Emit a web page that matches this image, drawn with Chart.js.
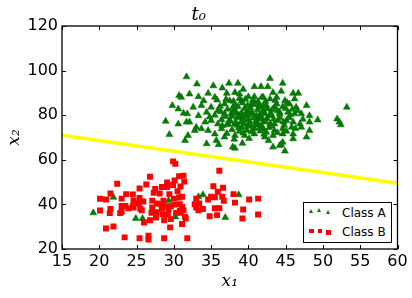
<!DOCTYPE html>
<html>
<head>
<meta charset="utf-8">
<script src="https://cdn.jsdelivr.net/npm/chart.js@4/dist/chart.umd.min.js"></script>
<style>
  html, body { margin: 0; padding: 0; background: #fff; }
  #wrap { position: relative; width: 412px; height: 298px; }
  #chart { display: block; }
  #legend { position: absolute; left: 303px; top: 202px; width: 89px; height: 41px;
    border: 1px solid #000; background: #fff; box-sizing: border-box;
    font: 12px "DejaVu Sans", sans-serif; color: #000; }
  #legend .lbl { position: absolute; left: 38px; line-height: 14px; }
  #legend .tri { position: absolute; width: 0; height: 0; border-style: solid; border-color: transparent transparent #008000 transparent; }
  #legend .sq { position: absolute; background: #ff0000; }
</style>
</head>
<body>
<div id="wrap">
  <canvas id="chart" width="412" height="298"></canvas>
  <div id="legend">
    <span class="tri" style="left:5px; top:6px; border-width:0 2px 4px 2px;"></span>
    <span class="tri" style="left:13px; top:5px; border-width:0 2px 4px 2px;"></span>
    <span class="tri" style="left:22px; top:7px; border-width:0 2px 4px 2px;"></span>
    <span class="lbl" style="top:3px;">Class A</span>
    <span class="sq" style="left:5px; top:26px; width:5px; height:4px;"></span>
    <span class="sq" style="left:14px; top:26px; width:4px; height:4px;"></span>
    <span class="sq" style="left:22px; top:27px; width:5px; height:5px;"></span>
    <span class="lbl" style="top:22px;">Class B</span>
  </div>
</div>
<script>
// Class A (green triangles)
const classAX = [
  33.1, 35.3, 36.5, 37.4, 38.6, 40.8, 41.7, 30.7, 31.0, 32.1,
  33.3, 34.6, 35.5, 37.1, 38.2, 38.8, 40.0, 40.8, 30.6, 31.3,
  31.8, 32.6, 33.7, 33.3, 34.4, 35.0, 35.9, 36.8, 37.5, 39.1,
  40.4, 41.5, 30.6, 31.7, 32.1, 33.0, 34.2, 35.0, 35.9, 36.8,
  37.7, 38.4, 39.1, 40.0, 41.1, 42.0, 31.9, 32.8, 33.7, 34.6,
  35.5, 36.4, 37.3, 38.2, 39.1, 40.2, 41.3, 31.5, 34.4, 35.7,
  36.8, 38.2, 39.5, 40.8, 42.0, 37.9, 42.6, 44.6, 43.3, 44.4,
  46.0, 46.7, 42.0, 42.9, 43.8, 44.9, 46.2, 47.8, 53.2, 42.4,
  43.5, 45.5, 46.4, 42.2, 43.1, 44.2, 45.3, 46.2, 47.1, 48.2,
  49.3, 51.9, 52.2, 52.4, 42.0, 42.9, 44.0, 45.1, 46.0, 46.9,
  48.2, 42.4, 43.5, 44.6, 45.8, 47.1, 48.2, 42.2, 43.3, 44.6,
  46.0, 47.8, 44.6, 44.2, 43.3, 46.0, 37.5, 38.0, 38.5, 39.0,
  39.5, 40.0, 40.5, 41.0, 41.5, 42.0, 38.2, 39.2, 40.3, 41.2,
  42.5, 43.0, 37.8, 38.8, 39.8, 40.8, 41.8, 42.8, 39.5, 40.2,
  41.5, 38.5, 37.2, 36.4, 36.2, 35.5, 39.8, 38.9, 40.9, 41.9,
  43.5, 44.2, 44.8, 45.5, 43.8, 42.3, 40.6, 38.8, 37.0, 39.3,
  36.5, 37.1, 38.1, 40.1, 41.6, 42.7, 39.2, 36.0, 31.7, 42.9,
  29.8, 28.9, 29.4, 44.9, 38.2, 44.4, 21.9, 19.2, 24.9, 25.8,
  29.3, 30.2, 33.3, 33.9, 38.7, 36.9, 39.7, 40.7, 37.9, 41.3,
  43.2, 44.6, 45.9, 40.9, 39.3, 37.5, 36.3, 34.8, 34.0, 35.8,
  37.8, 38.6, 39.4, 40.2, 41.0, 41.8, 42.6, 43.4, 44.2, 45.0,
  38.3, 39.1, 39.9, 40.7, 41.5, 42.3, 43.1, 43.9, 44.7, 45.6,
  37.1, 36.9, 38.0, 39.6, 41.8, 43.6, 45.2, 46.6, 47.3, 46.3,
  40.4, 38.7, 42.1, 43.9, 45.1, 39.9, 41.6, 40.0, 42.9, 38.1
];
const classAY = [
  94.0, 93.2, 92.2, 94.3, 94.3, 92.8, 92.8, 88.8, 88.0, 89.5,
  88.3, 89.8, 88.0, 89.8, 90.2, 89.5, 88.3, 88.3, 82.8, 80.9,
  80.6, 83.6, 84.3, 79.8, 81.3, 83.6, 82.1, 85.0, 86.5, 86.5,
  85.0, 84.3, 76.1, 76.9, 76.9, 74.6, 76.9, 77.6, 76.1, 80.6,
  80.6, 81.3, 79.1, 80.6, 79.8, 82.1, 70.9, 73.1, 73.9, 73.1,
  71.6, 73.9, 76.1, 76.1, 74.6, 75.4, 76.1, 68.7, 67.2, 68.7,
  70.2, 70.9, 70.9, 71.6, 73.9, 65.7, 92.8, 94.3, 90.2, 90.7,
  89.8, 89.8, 88.0, 87.3, 88.0, 86.5, 87.3, 84.3, 83.6, 84.3,
  83.6, 85.0, 83.6, 80.6, 79.8, 81.3, 81.3, 80.6, 80.6, 79.8,
  77.9, 78.3, 76.9, 75.7, 76.9, 76.1, 77.6, 77.6, 76.9, 76.1,
  76.9, 72.4, 73.1, 73.9, 74.6, 74.6, 73.1, 70.2, 70.9, 71.6,
  71.6, 70.2, 67.9, 66.4, 65.7, 69.4, 78.0, 82.0, 79.0, 77.0,
  83.0, 78.0, 81.0, 77.5, 80.0, 84.0, 84.5, 85.5, 83.2, 82.4,
  78.5, 81.0, 73.5, 72.8, 73.2, 74.0, 75.0, 74.5, 76.0, 76.8,
  78.3, 75.5, 82.7, 78.0, 84.0, 80.0, 81.7, 80.2, 79.4, 81.5,
  76.0, 79.0, 75.5, 78.9, 85.0, 86.2, 86.8, 87.5, 87.2, 91.6,
  75.3, 71.8, 69.2, 69.5, 72.9, 68.6, 67.4, 66.8, 97.2, 96.5,
  84.3, 77.3, 71.3, 63.9, 65.2, 66.9, 43.2, 36.2, 33.7, 33.7,
  41.7, 34.4, 43.4, 44.3, 44.3, 34.1, 79.8, 84.7, 83.4, 86.0,
  82.6, 83.8, 82.7, 75.6, 72.0, 77.3, 81.6, 79.2, 86.5, 86.8,
  79.5, 83.8, 78.2, 82.5, 85.2, 79.0, 82.8, 78.2, 80.4, 83.0,
  77.0, 81.0, 75.0, 78.8, 74.3, 77.2, 75.2, 82.0, 77.0, 80.2,
  75.7, 79.4, 86.2, 87.2, 88.1, 86.6, 85.6, 82.0, 78.2, 74.0,
  72.6, 74.3, 71.5, 72.1, 72.8, 84.4, 83.6, 80.0, 80.2, 80.9
];

// Class B (red squares)
const classBX = [
  29.9, 30.2, 36.1, 26.8, 30.7, 31.3, 22.4, 29.1, 30.1, 31.4,
  26.3, 27.5, 28.4, 29.1, 29.9, 30.9, 35.3, 36.6, 25.4, 21.5,
  23.6, 24.5, 27.3, 28.1, 29.4, 30.5, 35.9, 20.1, 20.9, 23.0,
  25.4, 24.6, 27.1, 28.6, 30.0, 30.7, 31.1, 33.0, 34.6, 35.0,
  35.5, 36.5, 38.0, 36.7, 40.1, 41.3, 38.2, 23.0, 23.5, 24.5,
  25.3, 25.9, 27.7, 28.3, 28.9, 29.6, 30.1, 30.8, 31.1, 32.8,
  33.4, 33.0, 33.3, 33.9, 23.9, 24.6, 25.5, 25.7, 27.1, 28.4,
  29.3, 30.8, 31.3, 35.5, 36.1, 39.3, 20.1, 21.5, 21.4, 22.8,
  23.0, 27.0, 27.7, 28.5, 29.2, 30.3, 30.9, 34.8, 35.8, 41.3,
  26.8, 27.6, 28.7, 29.6, 31.5, 31.6, 39.2, 26.0, 31.1, 20.9,
  21.9, 29.5, 23.4, 25.4, 26.6, 26.6, 28.7, 31.8
];
const classBY = [
  59.3, 58.2, 55.1, 52.4, 52.6, 52.9, 49.3, 49.8, 50.7, 50.2,
  48.9, 46.9, 47.8, 47.8, 48.7, 48.0, 48.1, 47.5, 47.1, 44.9,
  44.6, 44.4, 45.2, 44.9, 44.6, 45.9, 45.7, 42.5, 42.2, 42.6,
  42.9, 41.7, 41.7, 41.7, 42.6, 43.1, 43.4, 42.6, 42.2, 43.4,
  43.2, 43.4, 44.6, 41.6, 42.2, 42.6, 40.8, 39.3, 39.3, 39.3,
  40.4, 41.3, 40.4, 40.1, 39.2, 39.2, 39.9, 40.1, 38.9, 40.1,
  40.4, 38.6, 37.4, 37.9, 38.3, 38.6, 38.0, 37.4, 38.6, 38.2,
  37.7, 37.1, 37.4, 38.3, 38.3, 37.7, 37.3, 38.0, 36.1, 36.1,
  36.7, 36.2, 36.5, 35.6, 35.5, 36.2, 36.2, 34.7, 35.2, 35.5,
  32.9, 34.1, 32.9, 33.4, 34.4, 33.7, 33.7, 31.9, 31.2, 29.2,
  30.1, 29.7, 25.2, 24.8, 26.0, 24.3, 24.8, 24.8
];

// Separating line t0
const lineX = [15, 60];
const lineY = [71.0, 49.5];

const xTicks = [15, 20, 25, 30, 35, 40, 45, 50, 55, 60];
const yTicks = [20, 40, 60, 80, 100, 120];

const pts = (xs, ys) => xs.map((x, i) => ({ x, y: ys[i] }));

// frame + inward ticks on all four sides
const frameTicks = {
  id: 'frameTicks',
  afterDatasetsDraw(chart) {
    const { ctx, chartArea: { left, right, top, bottom }, scales: { x, y } } = chart;
    ctx.save();
    ctx.strokeStyle = '#000';
    ctx.lineWidth = 1;
    ctx.beginPath();
    xTicks.forEach((v) => {
      const px = Math.round(x.getPixelForValue(v)) + 0.5;
      ctx.moveTo(px, bottom); ctx.lineTo(px, bottom - 4);
      ctx.moveTo(px, top); ctx.lineTo(px, top + 4);
    });
    yTicks.forEach((v) => {
      const py = Math.round(y.getPixelForValue(v)) + 0.5;
      ctx.moveTo(left, py); ctx.lineTo(left + 4, py);
      ctx.moveTo(right, py); ctx.lineTo(right - 4, py);
    });
    ctx.stroke();
    ctx.lineWidth = 1.3;
    ctx.strokeRect(left, top, right - left, bottom - top);
    ctx.restore();
  },
};

const tickFont = { family: 'DejaVu Sans', size: 16 };
const mathFont = { family: 'DejaVu Serif', style: 'italic', size: 17 };

new Chart(document.getElementById('chart'), {
  type: 'scatter',
  data: {
    datasets: [
      { label: 't0', type: 'line', data: pts(lineX, lineY), borderColor: '#ffff00', borderWidth: 3.5,
        pointRadius: 0, fill: false, order: 0 },
      { label: 'Class B', data: pts(classBX, classBY), pointStyle: 'rect', pointRadius: 4.2,
        backgroundColor: '#ff0000', borderColor: '#ff0000', borderWidth: 0, order: 1 },
      { label: 'Class A', data: pts(classAX, classAY), pointStyle: 'triangle', pointRadius: 4,
        backgroundColor: '#008000', borderColor: '#006400', borderWidth: 0.5, order: 2 },
    ],
  },
  options: {
    responsive: false,
    animation: false,
    devicePixelRatio: 1,
    layout: { padding: { left: 0, right: 14.5, top: 0, bottom: 0 } },
    plugins: {
      legend: { display: false },
      tooltip: { enabled: false },
      title: { display: true, text: 't₀', color: '#000', padding: { top: 5, bottom: 0 },
        font: { family: 'DejaVu Serif', style: 'italic', size: 18, weight: 'normal', lineHeight: '21px' } },
    },
    scales: {
      x: {
        type: 'linear', min: 15, max: 60,
        afterBuildTicks: (s) => { s.ticks = xTicks.map((v) => ({ value: v })); },
        afterFit: (s) => { s.height = 49; },
        grid: { display: false, drawTicks: false },
        border: { display: false },
        ticks: { font: tickFont, color: '#000', padding: 3, maxRotation: 0, autoSkip: false },
        title: { display: true, text: 'x₁', color: '#000', font: mathFont, padding: { top: 0, bottom: 6 } },
      },
      y: {
        type: 'linear', min: 20, max: 120,
        afterBuildTicks: (s) => { s.ticks = yTicks.map((v) => ({ value: v })); },
        afterFit: (s) => { s.width = 62; },
        grid: { display: false, drawTicks: false },
        border: { display: false },
        ticks: { font: tickFont, color: '#000', padding: 4, autoSkip: false },
        title: { display: true, text: 'x₂', color: '#000', font: mathFont, padding: { top: 4, bottom: 0 } },
      },
    },
  },
  plugins: [frameTicks],
});
</script>
</body>
</html>
